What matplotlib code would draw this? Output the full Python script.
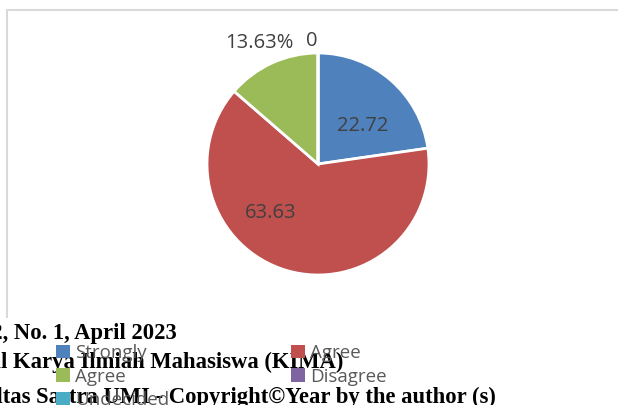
import numpy as np
import matplotlib.pyplot as plt
from matplotlib.patches import Patch, Rectangle

# data
labels = ["Strongly", "Agree", "Agree", "Disagree", "Undecided"]
values = [22.72, 63.63, 13.63, 0, 0]
label_text = ["22.72", "63.63", "13.63%", "0", ""]
colors = ["#4f81bd", "#c0504d", "#9bbb59", "#8064a2", "#4bacc6"]

# label placement (angle in degrees, distance as fraction of radius)
label_pos = [(40, 0.53), (-134, 0.61), (116, 1.21), (93, 1.11), (0, 0)]

header = ["Vol. 2, No. 1, April 2023",
          "Jurnal Karya Ilmiah Mahasiswa (KIMA)",
          "Fakultas Sastra UMI - Copyright©Year by the author (s)"]
header_right = [177, 343, 496]
header_base = [339, 368, 403]

W, H = 618, 405
fig = plt.figure(figsize=(W / 100, H / 100), dpi=100)
ax = fig.add_axes([0, 0, 1, 1])

# chart area border
ax.plot([7, 7, W], [0, H - 10, H - 10], color="#d9d9d9", lw=1.5, zorder=1)

cx, cy, r = 318, H - 164, 111
wedges, _ = ax.pie(values, colors=colors, startangle=90, counterclock=False,
                   center=(cx, cy), radius=r, frame=True,
                   wedgeprops=dict(edgecolor="white", linewidth=2))
ax.set_xlim(0, W)
ax.set_ylim(0, H)
ax.set_aspect("equal")
ax.axis("off")

for txt, (ang, d) in zip(label_text, label_pos):
    if not txt:
        continue
    a = np.deg2rad(ang)
    ax.text(cx + d * r * np.cos(a), cy + d * r * np.sin(a), txt,
            ha="center", va="center", fontsize=14.5, color="#404040",
            family="Open Sans")

# white box of the page below the chart
ax.add_patch(Rectangle((0, 0), W, H - 318, facecolor="white",
                       edgecolor="none", zorder=2))

handles = [Patch(facecolor=c, edgecolor="none") for c in colors]
order = [0, 2, 4, 1, 3]
leg = fig.legend([handles[i] for i in order], [labels[i] for i in order],
                 ncol=2, loc="upper left",
                 bbox_to_anchor=(56 / W, 1 - 344 / H),
                 frameon=False, borderpad=0, borderaxespad=0,
                 handlelength=0.72, handleheight=0.72, handletextpad=0.3,
                 labelspacing=0.3, columnspacing=6.5,
                 prop=dict(family="Open Sans", size=13.5))
for t in leg.get_texts():
    t.set_color("#595959")

for s, xr, yb in zip(header, header_right, header_base):
    fig.text(xr / W, 1 - yb / H, s, ha="right", va="baseline",
             fontsize=16.3, fontweight="bold", family="Liberation Serif",
             color="black", zorder=5)

fig.savefig("out.png", dpi=100)
